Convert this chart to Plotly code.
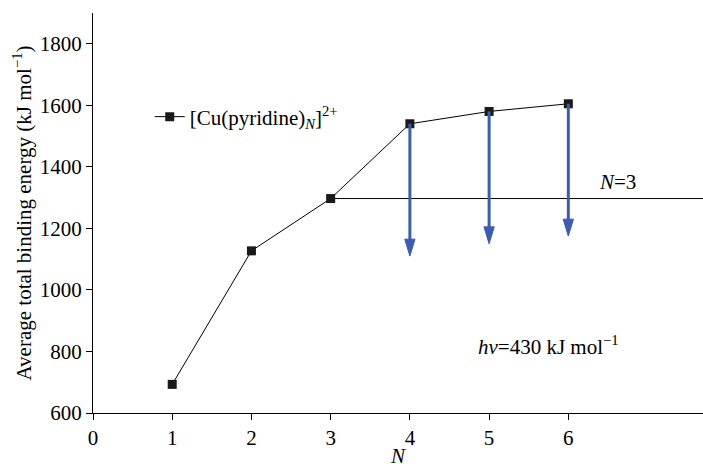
import plotly.graph_objects as go

N = [1, 2, 3, 4, 5, 6]
energy = [693, 1127, 1297, 1540, 1580, 1605]
photon_energy = 430
arrow_N = [4, 5, 6]
ref_N = 3
x_ticks = [0, 1, 2, 3, 4, 5, 6]
y_ticks = [600, 800, 1000, 1200, 1400, 1600, 1800]

font = "Liberation Serif, Times New Roman, serif"
x_range = [0, 7.7]
y_range = [600, 1900]
arrow_color = "#3a5cb2"
head_len = 55      # arrow-head length in y units
head_half = 0.065  # arrow-head half width in x units

fig = go.Figure()
e_ref = energy[N.index(ref_N)]
fig.add_trace(go.Scatter(x=[ref_N, x_range[1]], y=[e_ref, e_ref], mode="lines",
                         line=dict(color="black", width=1), showlegend=False, hoverinfo="skip"))

shapes = []
for n in arrow_N:
    e = energy[N.index(n)]
    tip = e - photon_energy
    shapes.append(dict(type="line", xref="x", yref="y", x0=n, x1=n, y0=e, y1=tip + head_len * 0.8,
                       line=dict(color=arrow_color, width=3)))
    shapes.append(dict(type="path", xref="x", yref="y",
                       path=f"M{n - head_half},{tip + head_len} L{n + head_half},{tip + head_len} L{n},{tip} Z",
                       fillcolor=arrow_color, line=dict(color=arrow_color, width=1)))

fig.add_trace(go.Scatter(x=N, y=energy, mode="lines+markers",
                         line=dict(color="black", width=1),
                         marker=dict(symbol="square", size=9, color="#1a1a1a"),
                         name="[Cu(pyridine)<sub><i>N</i></sub>]<sup>2+</sup>"))

annotations = [
    dict(x=6.62, y=e_ref, xref="x", yref="y", yanchor="bottom", yshift=3,
         text="<i>N</i>=3", showarrow=False, font=dict(family=font, size=21, color="black")),
    dict(x=5.75, y=821, xref="x", yref="y",
         text=f"<i>hν</i>={photon_energy} kJ mol<sup>−1</sup>", showarrow=False,
         font=dict(family=font, size=21, color="black")),
]

fig.update_layout(
    width=703, height=468, paper_bgcolor="white", plot_bgcolor="white",
    margin=dict(l=93, r=0, t=13, b=55),
    font=dict(family=font, size=21, color="black"),
    shapes=shapes, annotations=annotations,
    legend=dict(x=0.093, y=0.74, xanchor="left", yanchor="middle", bgcolor="rgba(0,0,0,0)",
                font=dict(family=font, size=21, color="black")),
    xaxis=dict(range=x_range, tickvals=x_ticks, showgrid=False, zeroline=False,
               showline=True, linecolor="black", linewidth=1, ticks="outside", ticklen=6,
               tickcolor="black", tickfont=dict(family=font, size=21, color="black"),
               title=dict(text="<i>N</i>", standoff=4, font=dict(family=font, size=21))),
    yaxis=dict(range=y_range, tickvals=y_ticks, showgrid=False, zeroline=False,
               showline=True, linecolor="black", linewidth=1, ticks="outside", ticklen=6,
               tickcolor="black", tickfont=dict(family=font, size=21, color="black"),
               title=dict(text="Average total binding energy (kJ mol<sup>−1</sup>)", standoff=2,
                          font=dict(family=font, size=21))),
)
fig.write_html("out.html")
